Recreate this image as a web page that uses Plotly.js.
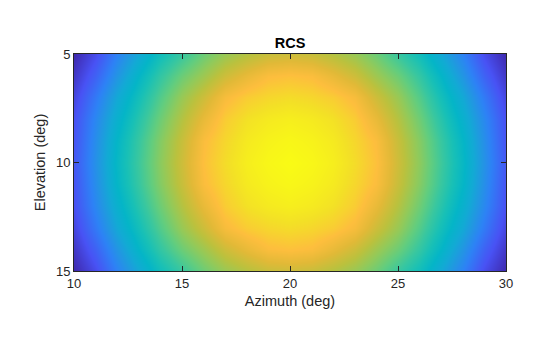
<!DOCTYPE html>
<html>
<head>
<meta charset="utf-8">
<script src="https://cdn.plot.ly/plotly-3.0.1.min.js"></script>
<style>html,body{margin:0;padding:0;background:#fff;}#chart{width:560px;height:337px;}</style>
</head>
<body>
<div id="chart"></div>
<script>
// Azimuth (deg) and elevation (deg) sample points
const azimuth = [10,11,12,13,14,15,16,17,18,19,20,21,22,23,24,25,26,27,28,29,30];
const elevation = [5,6,7,8,9,10,11,12,13,14,15];
// Normalized RCS (rows = elevation, cols = azimuth)
const rcs_el5  = [0.01,0.11,0.25,0.37,0.48,0.56,0.64,0.70,0.74,0.77,0.78,0.77,0.74,0.70,0.64,0.56,0.48,0.37,0.25,0.11,0.01];
const rcs_el6  = [0.05,0.17,0.31,0.44,0.55,0.64,0.71,0.78,0.83,0.87,0.88,0.87,0.83,0.78,0.71,0.64,0.55,0.44,0.31,0.17,0.05];
const rcs_el7  = [0.09,0.23,0.37,0.49,0.60,0.70,0.78,0.86,0.90,0.92,0.93,0.92,0.90,0.86,0.78,0.70,0.60,0.49,0.37,0.23,0.09];
const rcs_el8  = [0.12,0.27,0.41,0.53,0.64,0.74,0.83,0.90,0.94,0.96,0.97,0.96,0.94,0.90,0.83,0.74,0.64,0.53,0.41,0.27,0.12];
const rcs_el9  = [0.13,0.29,0.44,0.56,0.67,0.77,0.87,0.92,0.96,0.98,0.99,0.98,0.96,0.92,0.87,0.77,0.67,0.56,0.44,0.29,0.13];
const rcs_el10 = [0.14,0.30,0.45,0.57,0.68,0.78,0.88,0.93,0.97,0.99,1.00,0.99,0.97,0.93,0.88,0.78,0.68,0.57,0.45,0.30,0.14];
const rcs_el11 = [0.13,0.29,0.44,0.56,0.67,0.77,0.87,0.92,0.96,0.98,0.99,0.98,0.96,0.92,0.87,0.77,0.67,0.56,0.44,0.29,0.13];
const rcs_el12 = [0.12,0.27,0.41,0.53,0.64,0.74,0.83,0.90,0.94,0.96,0.97,0.96,0.94,0.90,0.83,0.74,0.64,0.53,0.41,0.27,0.12];
const rcs_el13 = [0.09,0.23,0.37,0.49,0.60,0.70,0.78,0.86,0.90,0.92,0.93,0.92,0.90,0.86,0.78,0.70,0.60,0.49,0.37,0.23,0.09];
const rcs_el14 = [0.05,0.17,0.31,0.44,0.55,0.64,0.71,0.78,0.83,0.87,0.88,0.87,0.83,0.78,0.71,0.64,0.55,0.44,0.31,0.17,0.05];
const rcs_el15 = [0.01,0.11,0.25,0.37,0.48,0.56,0.64,0.70,0.74,0.77,0.78,0.77,0.74,0.70,0.64,0.56,0.48,0.37,0.25,0.11,0.01];
const xTicks = [10,15,20,25,30];
const yTicks = [5,10,15];

const z = [rcs_el5,rcs_el6,rcs_el7,rcs_el8,rcs_el9,rcs_el10,rcs_el11,rcs_el12,rcs_el13,rcs_el14,rcs_el15];

const parula = [
  [0.0,'rgb(62,38,168)'],
  [0.125,'rgb(72,82,244)'],
  [0.25,'rgb(45,130,245)'],
  [0.3125,'rgb(34,150,226)'],
  [0.375,'rgb(18,170,212)'],
  [0.4375,'rgb(4,181,199)'],
  [0.5,'rgb(24,192,182)'],
  [0.5625,'rgb(57,199,159)'],
  [0.625,'rgb(98,205,126)'],
  [0.6875,'rgb(144,202,91)'],
  [0.75,'rgb(187,193,61)'],
  [0.8125,'rgb(225,185,55)'],
  [0.875,'rgb(253,190,61)'],
  [0.9375,'rgb(243,224,38)'],
  [1.0,'rgb(249,251,21)']
];

const fam = 'Liberation Sans, Arial, sans-serif';

Plotly.newPlot('chart', [{
  type: 'heatmap',
  x: azimuth, y: elevation, z: z,
  zmin: 0, zmax: 1,
  colorscale: parula,
  zsmooth: 'best',
  showscale: false,
  hoverinfo: 'skip'
}], {
  width: 560, height: 337,
  margin: {l: 74, r: 54, t: 54, b: 66},
  paper_bgcolor: '#fff', plot_bgcolor: '#fff',
  font: {family: fam, color: '#262626', size: 13},
  title: {text: '<b>RCS</b>', font: {family: fam, size: 14.5, color: '#000'}, x: 290/560, xanchor: 'center', y: 1 - 43/337, yanchor: 'middle'},
  xaxis: {
    range: [10, 30], tickvals: xTicks, ticktext: xTicks.map(String),
    ticks: 'inside', ticklen: 5, tickcolor: '#262626', tickwidth: 1,
    showline: true, linecolor: '#262626', linewidth: 1, mirror: 'ticks',
    showgrid: false, zeroline: false,
    tickfont: {size: 13, color: '#262626'},
    title: {text: 'Azimuth (deg)', font: {size: 14.5, color: '#262626'}, standoff: 6}
  },
  yaxis: {
    range: [15, 5], tickvals: yTicks, ticktext: yTicks.map(String),
    ticks: 'inside', ticklen: 5, tickcolor: '#262626', tickwidth: 1,
    showline: true, linecolor: '#262626', linewidth: 1, mirror: 'ticks',
    showgrid: false, zeroline: false,
    tickfont: {size: 13, color: '#262626'},
    title: {text: 'Elevation (deg)', font: {size: 14.5, color: '#262626'}, standoff: 6}
  }
}, {displayModeBar: false, staticPlot: true});
</script>
</body>
</html>
